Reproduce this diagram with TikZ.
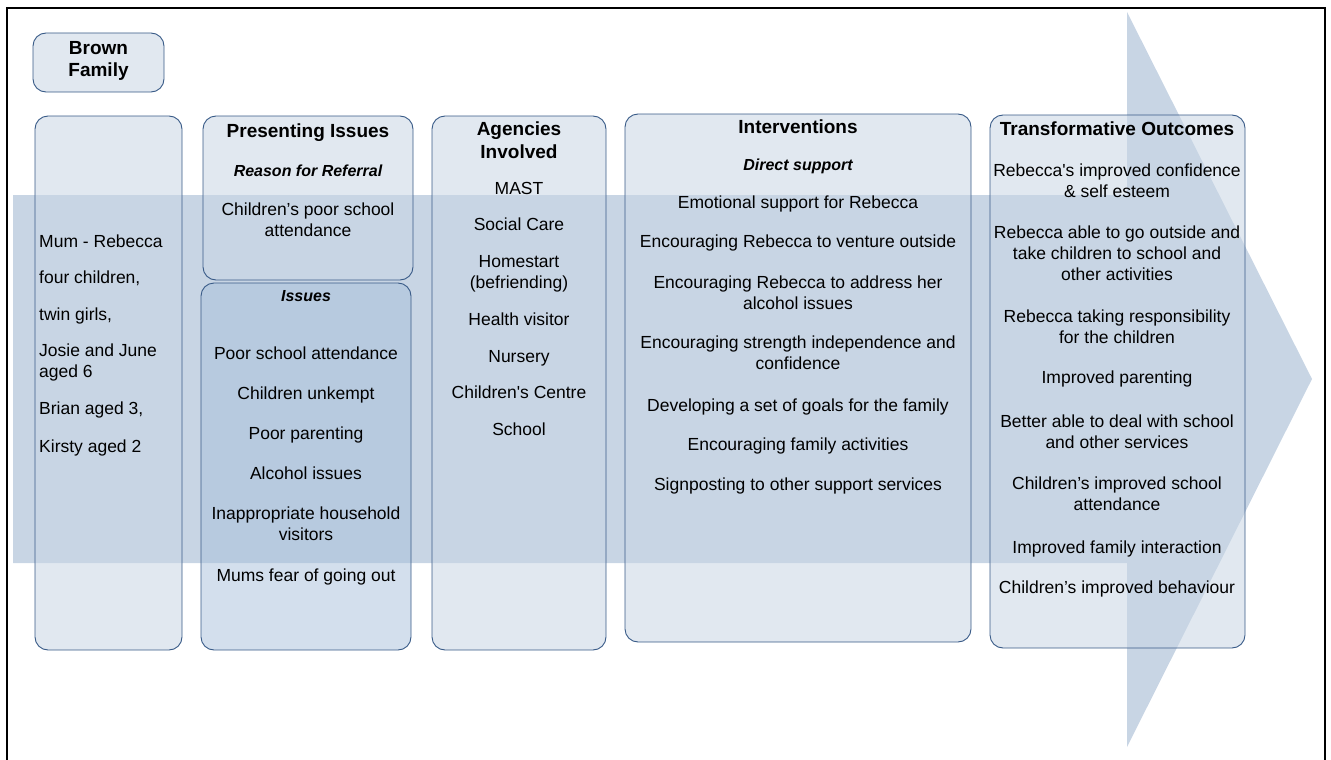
\documentclass[tikz,border=0pt]{standalone}
\usepackage{fontspec}
\setmainfont{Liberation Sans}[Ligatures=TeXOff]

\definecolor{bandblue}{RGB}{200,213,228}
\definecolor{issueblue}{RGB}{168,192,220}
\definecolor{edgeblue}{RGB}{56,90,135}

\tikzset{
  colbox/.style={rectangle, draw=edgeblue, line width=0.9pt, rounded corners=13pt,
    fill=bandblue, fill opacity=0.55, text opacity=1, inner sep=0pt},
  issbox/.style={colbox, fill=issueblue, fill opacity=0.5},
  head/.style={anchor=base, align=center, inner sep=0pt,
    font=\fontsize{19}{22.5}\selectfont\bfseries},
  subhead/.style={anchor=base, inner sep=0pt,
    font=\fontsize{16}{20}\selectfont\bfseries\itshape},
  item/.style={anchor=base, align=center, inner sep=0pt,
    font=\fontsize{17.5}{21}\selectfont},
  famitem/.style={item, anchor=base west, align=left}
}

\begin{document}
\begin{tikzpicture}[x=1pt,y=-1pt]
\useasboundingbox (0,0) rectangle (1331,760);

% frame and the big arrow behind the columns
\draw[line width=2pt] (7,762) -- (7,8) -- (1325,8) -- (1325,762);
\fill[bandblue] (13,195) -- (1127,195) -- (1127,12) -- (1312,379)
  -- (1127,747) -- (1127,563) -- (13,563) -- cycle;

% boxes
\node[colbox, minimum width=131, minimum height=59]  (brown) at (98.5,62.5) {};
\node[colbox, minimum width=147, minimum height=534] (fam)   at (108.5,383) {};
\node[colbox, minimum width=210, minimum height=164] (pres)  at (308,198) {};
\node[issbox, minimum width=210, minimum height=367] (iss)   at (306,466.5) {};
\node[colbox, minimum width=174, minimum height=534] (ag)    at (519,383) {};
\node[colbox, minimum width=346, minimum height=528] (int)   at (798,378) {};
\node[colbox, minimum width=255, minimum height=533] (out)   at (1117.5,381.5) {};

% family (multi-line nodes sit on their last baseline)
\node[head] (b0) at (98.5,77) {Brown\\Family};
\node[famitem] (f1) at (39,247) {Mum - Rebecca};
\node[famitem] (f2) at (39,283) {four children,};
\node[famitem] (f3) at (39,320) {twin girls,};
\node[famitem] (f4) at (39,377) {Josie and June\\aged 6};
\node[famitem] (f5) at (39,414) {Brian aged 3,};
\node[famitem] (f6) at (39,452) {Kirsty aged 2};

% presenting issues
\node[head]    (p0) at (308,137) {Presenting Issues};
\node[subhead] (p1) at (308,176) {Reason for Referral};
\node[item]    (p2) at (308,236) {Children’s poor school\\attendance};

\node[subhead] (i0) at (306,301) {Issues};
\node[item] (i1) at (306,359) {Poor school attendance};
\node[item] (i2) at (306,399) {Children unkempt};
\node[item] (i3) at (306,439) {Poor parenting};
\node[item] (i4) at (306,479) {Alcohol issues};
\node[item] (i5) at (306,540) {Inappropriate household\\visitors};
\node[item] (i6) at (306,581) {Mums fear of going out};

% agencies
\node[head] (a0) at (519,158) {Agencies\\Involved};
\node[item] (a1) at (519,194) {MAST};
\node[item] (a2) at (519,230) {Social Care};
\node[item] (a3) at (519,288) {Homestart\\(befriending)};
\node[item] (a4) at (519,325) {Health visitor};
\node[item] (a5) at (519,362) {Nursery};
\node[item] (a6) at (519,398) {Children's Centre};
\node[item] (a7) at (519,435) {School};

% interventions
\node[head]    (n0) at (798,133) {Interventions};
\node[subhead] (n1) at (798,170) {Direct support};
\node[item] (n2) at (798,208) {Emotional support for Rebecca};
\node[item] (n3) at (798,247) {Encouraging Rebecca to venture outside};
\node[item] (n4) at (798,309) {Encouraging Rebecca to address her\\alcohol issues};
\node[item] (n5) at (798,369) {Encouraging strength independence and\\confidence};
\node[item] (n6) at (798,411) {Developing a set of goals for the family};
\node[item] (n7) at (798,450) {Encouraging family activities};
\node[item] (n8) at (798,490) {Signposting to other support services};

% outcomes
\node[head] (o0) at (1117,135) {Transformative Outcomes};
\node[item] (o1) at (1117,197) {Rebecca's improved confidence\\\& self esteem};
\node[item] (o2) at (1117,280) {Rebecca able to go outside and\\take children to school and\\other activities};
\node[item] (o3) at (1117,343) {Rebecca taking responsibility\\for the children};
\node[item] (o4) at (1117,383) {Improved parenting};
\node[item] (o5) at (1117,448) {Better able to deal with school\\and other services};
\node[item] (o6) at (1117,510) {Children’s improved school\\attendance};
\node[item] (o7) at (1117,553) {Improved family interaction};
\node[item] (o8) at (1117,593) {Children’s improved behaviour};

\end{tikzpicture}
\end{document}
